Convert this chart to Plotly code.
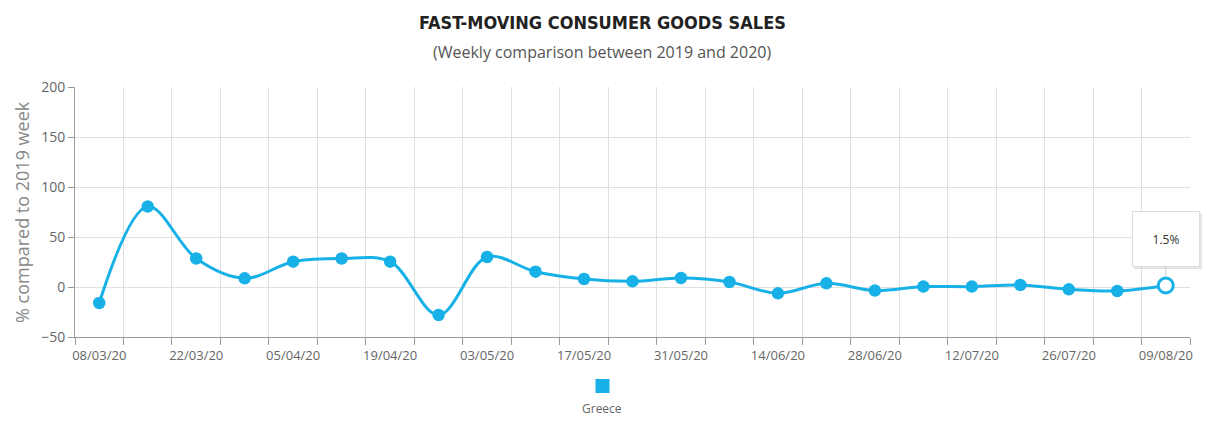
import plotly.graph_objects as go

weeks = ["08/03/20", "15/03/20", "22/03/20", "29/03/20", "05/04/20", "12/04/20",
         "19/04/20", "26/04/20", "03/05/20", "10/05/20", "17/05/20", "24/05/20",
         "31/05/20", "07/06/20", "14/06/20", "21/06/20", "28/06/20", "05/07/20",
         "12/07/20", "19/07/20", "26/07/20", "02/08/20", "09/08/20"]
greece = [-16, 80.5, 28.5, 8.7, 25.3, 28.5, 25.3, -28, 30, 15.3, 8, 5.7,
          9, 5, -6.3, 3.7, -3.6, 0.4, 0.4, 2, -2.3, -4, 1.5]
y_ticks = [-50, 0, 50, 100, 150, 200]

BLUE = "#17b1e7"
GRID = "#e0e0e0"
AXIS = "#9a9a9a"
TXT = "#666666"

tick_text = [w if i % 2 == 0 else "" for i, w in enumerate(weeks)]

# page offset from body margin
OFF = 8
W, H = 1219 - OFF, 421 - OFF
L, R, T, B = 75 - OFF, 29, 87 - OFF, 84
PW, PH = W - L - R, H - T - B


def px(xp):
    return (xp - OFF - L) / PW


def py(yp):
    return 1 - (yp - OFF - T) / PH


fig = go.Figure()
fig.add_trace(go.Scatter(
    x=weeks, y=greece, mode="lines+markers", name="Greece",
    line=dict(color=BLUE, width=3, shape="spline", smoothing=1.0),
    marker=dict(color=BLUE, size=12.5),
    hoverinfo="skip", showlegend=False,
))
fig.add_trace(go.Scatter(
    x=[weeks[-1]], y=[greece[-1]], mode="markers",
    marker=dict(color="white", size=15, line=dict(color=BLUE, width=3)),
    hoverinfo="skip", showlegend=False,
))

fig.update_layout(
    width=W, height=H,
    margin=dict(l=L, r=R, t=T, b=B),
    paper_bgcolor="white", plot_bgcolor="white",
    font=dict(family="Open Sans, sans-serif", color=TXT),
    xaxis=dict(
        type="category", categoryorder="array", categoryarray=weeks,
        range=[-0.5, len(weeks) - 0.5],
        tickmode="array", tickvals=weeks, ticktext=tick_text, tickangle=0,
        tickson="boundaries", ticks="outside", ticklen=7, tickcolor=AXIS,
        ticklabelstandoff=6,
        showgrid=True, gridcolor=GRID, gridwidth=1,
        showline=True, linecolor=AXIS, linewidth=1,
        tickfont=dict(size=13, color=TXT), zeroline=False,
    ),
    yaxis=dict(
        range=[-50, 200], tickmode="array", tickvals=y_ticks,
        ticks="outside", ticklen=6, tickcolor=AXIS,
        showgrid=True, gridcolor=GRID, gridwidth=1,
        zeroline=True, zerolinecolor=GRID, zerolinewidth=1,
        showline=True, linecolor=AXIS, linewidth=1,
        tickfont=dict(size=14, color=TXT),
    ),
    annotations=[
        dict(text="FAST-MOVING CONSUMER GOODS SALES", xref="paper", yref="paper",
             x=px(602), y=py(22), xanchor="center", yanchor="middle", showarrow=False,
             font=dict(family="DejaVu Sans Condensed, Liberation Sans Narrow, sans-serif",
                       size=18, color="#222222", weight="bold")),
        dict(text="(Weekly comparison between 2019 and 2020)", xref="paper", yref="paper",
             x=px(602), y=py(52), xanchor="center", yanchor="middle",
             showarrow=False, font=dict(size=16, color="#555555")),
        dict(text="% compared to 2019 week", xref="paper", yref="paper",
             x=px(22), y=py(212), xanchor="center", yanchor="middle",
             textangle=-90, showarrow=False, font=dict(size=18, color="#888888")),
        dict(text="Greece", xref="paper", yref="paper",
             x=px(602), y=py(408), xanchor="center", yanchor="middle",
             showarrow=False, font=dict(size=12, color=TXT)),
        # tooltip shadow
        dict(text=" ", x=weeks[-1], y=greece[-1], xref="x", yref="y",
             showarrow=True, ax=0, ay=-47, arrowcolor="rgba(0,0,0,0)", arrowwidth=1,
             arrowhead=0, standoff=9, xshift=2, yshift=-2,
             bgcolor="rgba(0,0,0,0.10)", borderwidth=0,
             width=66, height=54, font=dict(size=12)),
        dict(text=f"{greece[-1]}%", x=weeks[-1], y=greece[-1], xref="x", yref="y",
             showarrow=True, ax=0, ay=-47, arrowcolor="#cfcfcf", arrowwidth=1,
             arrowhead=0, standoff=9,
             bgcolor="white", bordercolor="#dcdcdc", borderwidth=1,
             width=64, height=52, font=dict(size=12, color="#333333")),
    ],
    shapes=[
        dict(type="rect", xref="paper", yref="paper", xsizemode="pixel", ysizemode="pixel",
             xanchor=px(602.5), yanchor=py(386),
             x0=-7, x1=7, y0=-7, y1=7, fillcolor=BLUE, line=dict(width=0)),
    ],
)

fig.write_html("out.html")
